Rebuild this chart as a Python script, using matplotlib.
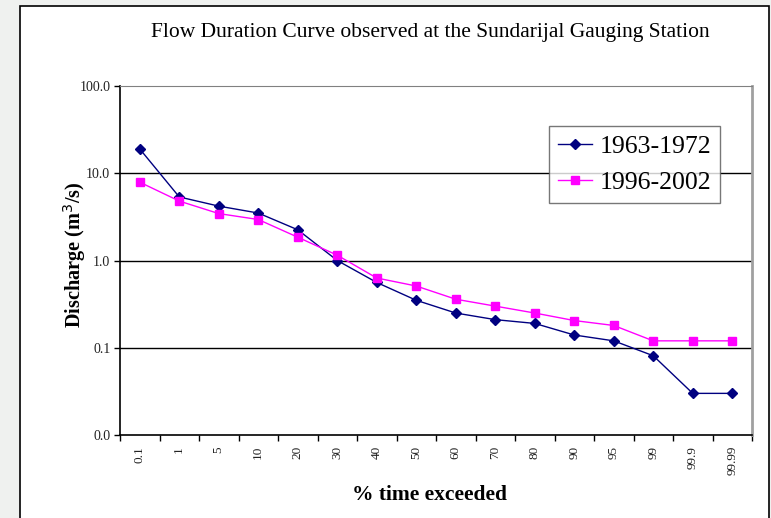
import matplotlib
matplotlib.use("Agg")
import matplotlib.pyplot as plt
from matplotlib.patches import Rectangle
from matplotlib.ticker import FixedLocator, NullLocator

plt.rcParams['font.family'] = ['Liberation Serif', 'DejaVu Serif']

# % time exceeded categories
categories = ['0.1', '1', '5', '10', '20', '30', '40', '50', '60', '70',
              '80', '90', '95', '99', '99.9', '99.99']

# discharge (m3/s)
q_1963_1972 = [19.0, 5.35, 4.2, 3.5, 2.25, 1.0, 0.56, 0.35, 0.25, 0.21,
               0.19, 0.14, 0.12, 0.081, 0.030, 0.030]
q_1996_2002 = [7.9, 4.8, 3.45, 2.95, 1.85, 1.15, 0.63, 0.51, 0.36, 0.30,
               0.25, 0.205, 0.18, 0.12, 0.12, 0.12]

y_ticks = [0.01, 0.1, 1, 10, 100]
y_labels = ['0.0', '0.1', '1.0', '10.0', '100.0']

fig = plt.figure(figsize=(7.71, 5.18), dpi=100, facecolor='#eff1ef')

# white chart area with black frame
fig.patches.append(Rectangle((20 / 771, -0.05), 749 / 771, 1.05 - 6 / 518,
                             transform=fig.transFigure, facecolor='white',
                             edgecolor='black', linewidth=1.2, zorder=-5))

ax = fig.add_axes([120 / 771, 1 - 435 / 518, 632 / 771, 349 / 518])
x = list(range(len(categories)))

ax.plot(x, q_1963_1972, color='#000080', marker='D', markersize=5,
        linewidth=1, label='1963-1972', zorder=3)
ax.plot(x, q_1996_2002, color='#ff00ff', marker='s', markersize=6,
        linewidth=1, label='1996-2002', zorder=3)

ax.set_yscale('log')
ax.set_ylim(0.01, 100)
ax.yaxis.set_major_locator(FixedLocator(y_ticks))
ax.yaxis.set_minor_locator(NullLocator())
ax.set_yticklabels(y_labels, fontsize=10, color='#222222')
for v in [0.1, 1, 10]:
    ax.axhline(v, color='black', linewidth=1, zorder=1)

ax.set_xlim(-0.5, len(categories) - 0.5)
ax.set_xticks([i - 0.5 for i in range(len(categories) + 1)])
ax.set_xticklabels([])
ax.set_xticks(x, minor=True)
ax.set_xticklabels(categories, minor=True, rotation=90, fontsize=9.5,
                   color='#222222')
ax.tick_params(axis='x', which='minor', length=0, pad=8)
ax.tick_params(axis='x', which='major', length=4, width=1, direction='out')
ax.tick_params(axis='y', length=4, width=1, direction='out', pad=3)

ax.spines['top'].set_color('#808080')
ax.spines['right'].set_color('#a0a0a0')
ax.spines['right'].set_linewidth(2)
ax.spines['left'].set_linewidth(1.2)
ax.spines['bottom'].set_linewidth(1.2)

ax.set_ylabel('Discharge (m$^3$/s)', fontsize=14.6, fontweight='bold',
              va='center')
ax.yaxis.set_label_coords((75 - 120) / 632, (435 - 255) / 349)
ax.set_xlabel('% time exceeded', fontsize=15.5, fontweight='bold',
              va='center')
ax.xaxis.set_label_coords((430 - 120) / 632, (435 - 495) / 349)

fig.text(430 / 771, 1 - 33 / 518,
         'Flow Duration Curve observed at the Sundarijal Gauging Station',
         ha='center', va='center', fontsize=15.5)

leg = ax.legend(loc='upper left', bbox_to_anchor=(0.679, 0.885), fontsize=18.5,
                frameon=True, fancybox=False, edgecolor='#555555',
                handlelength=1.3, handletextpad=0.3, borderpad=0.35,
                labelspacing=0.5, borderaxespad=0)
leg.get_frame().set_linewidth(1)

fig.savefig('out.png', dpi=100, facecolor=fig.get_facecolor())
